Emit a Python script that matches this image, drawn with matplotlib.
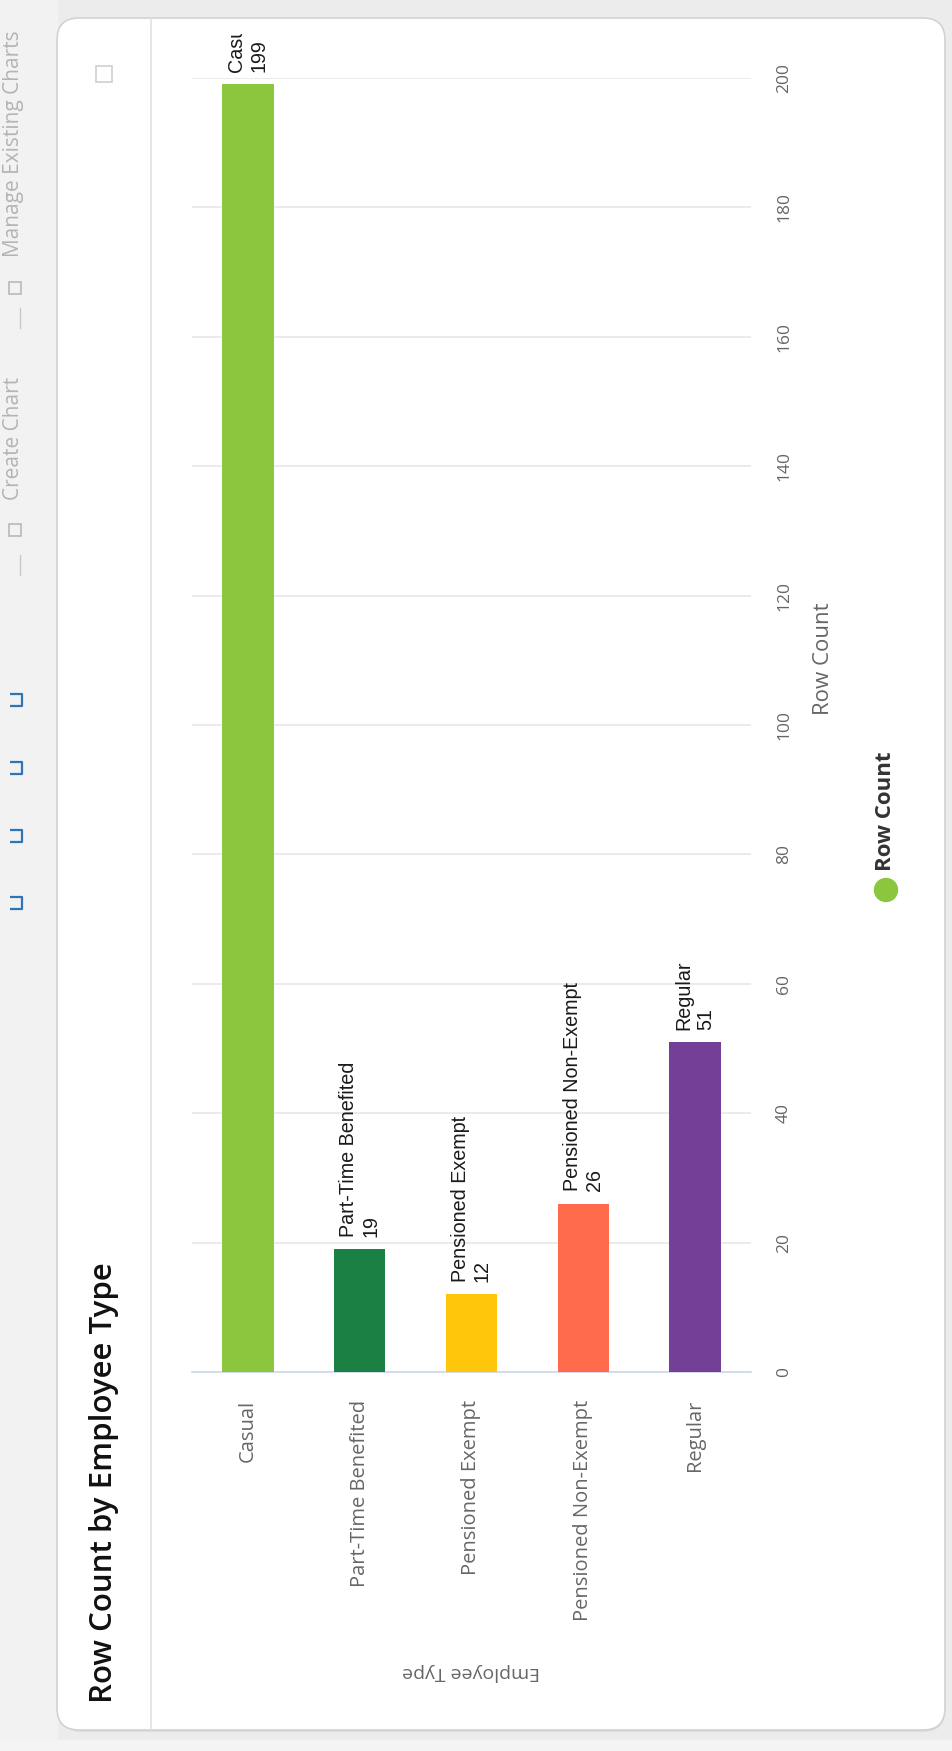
import matplotlib
matplotlib.use("Agg")
import matplotlib.pyplot as plt
from matplotlib.patches import FancyBboxPatch, Rectangle, Circle

plt.rcParams['font.family'] = ['Open Sans', 'DejaVu Sans']

# ---------------------------------------------------------------------------
# Data
# ---------------------------------------------------------------------------
categories = ["Casual", "Part-Time Benefited", "Pensioned Exempt",
              "Pensioned Non-Exempt", "Regular"]
row_counts = [199, 19, 12, 26, 51]
bar_colors = ["#8cc63f", "#1b8043", "#ffc60c", "#ff6b4b", "#743f96"]
y_ticks = [0, 20, 40, 60, 80, 100, 120, 140, 160, 180, 200]

title = "Row Count by Employee Type"
x_title = "Employee Type"
y_title = "Row Count"
series_name = "Row Count"

# ---------------------------------------------------------------------------
# Figure: the whole screenshot is turned on its side
# ---------------------------------------------------------------------------
W, H = 953, 1751
fig = plt.figure(figsize=(W / 100, H / 100), dpi=100, facecolor="#ececec")

# background axes in pixel units (y down)
bg = fig.add_axes([0, 0, 1, 1])
bg.set_xlim(0, W)
bg.set_ylim(H, 0)
bg.axis("off")

# left toolbar strip
bg.add_patch(Rectangle((0, 0), 57, H, color="#f2f2f2", zorder=0))
bg.add_patch(Rectangle((0, 1740), W, 11, color="#f4f4f4", zorder=0))

# card (shadow + white body)
bg.add_patch(FancyBboxPatch((60, 22), 885, 1710, boxstyle="round,pad=0,rounding_size=22",
                            fc="#dcdcdc", ec="none", zorder=1))
bg.add_patch(FancyBboxPatch((57, 18), 888, 1712, boxstyle="round,pad=0,rounding_size=22",
                            fc="white", ec="#d2d2d2", lw=1.2, zorder=2))
bg.plot([151, 151], [19, 1729], color="#e2e2e2", lw=1.2, zorder=3)

# checkbox at the card corner
bg.add_patch(Rectangle((96, 66), 16, 16, fc="white", ec="#cfcfcf", lw=1.2, zorder=3))

# chart title
bg.text(104, 1703, title, rotation=90, rotation_mode="anchor", ha="left", va="center",
        fontsize=22.5, fontweight="semibold", color="#111111", zorder=4)

# toolbar texts and icons (partly cut off at the left edge)
tb_color = "#b4b4b4"
bg.text(14, 257, "Manage Existing Charts", rotation=90, ha="center", va="bottom",
        fontsize=15, color=tb_color, zorder=4)
bg.text(14, 500, "Create Chart", rotation=90, ha="center", va="bottom",
        fontsize=15, color=tb_color, zorder=4)
for yy in [288, 530]:
    bg.add_patch(Rectangle((9, yy - 6), 12, 12, fc="none", ec=tb_color, lw=1.1, zorder=4))
for yy in [318, 565]:
    bg.plot([20, 20], [yy - 10, yy + 10], color="#c8c8c8", lw=1.0, zorder=4)
for yy in [700, 768, 836, 903]:
    bg.plot([10, 22, 22, 10], [yy - 6, yy - 6, yy + 6, yy + 6], color="#2f74b5",
            lw=1.6, zorder=4, solid_capstyle="butt")

# ---------------------------------------------------------------------------
# Plot area
# ---------------------------------------------------------------------------
px_l, px_r, px_top, px_bot = 192, 751, 78, 1372
ax = fig.add_axes([px_l / W, 1 - px_bot / H, (px_r - px_l) / W, (px_bot - px_top) / H])
ax.set_facecolor("none")
ax.set_zorder(5)

x = range(len(categories))
bars = ax.bar(x, row_counts, width=0.46, color=bar_colors, zorder=3)

ax.set_xlim(-0.5, len(categories) - 0.5)
ax.set_ylim(0, 200)
ax.set_yticks(y_ticks)
ax.yaxis.tick_right()
ax.tick_params(axis="y", length=0, pad=18, labelsize=12.5, labelcolor="#666666",
               labelrotation=90)
for lbl in ax.get_yticklabels():
    lbl.set_va("center")
    lbl.set_ha("left")
ax.grid(axis="y", color="#e6e6e6", lw=1.1, zorder=0)
ax.set_axisbelow(True)

ax.set_xticks(list(x))
ax.set_xticklabels(categories, rotation=90, ha="center", va="top")
ax.tick_params(axis="x", length=0, pad=20, labelsize=14.5, labelcolor="#666666")

for side in ["top", "left", "right"]:
    ax.spines[side].set_visible(False)
ax.spines["bottom"].set_color("#ccd6eb")
ax.spines["bottom"].set_linewidth(1.2)

ax.yaxis.set_label_position("right")
ax.set_ylabel(y_title, rotation=90, fontsize=16, color="#666666", ha="center", va="center")
ax.yaxis.set_label_coords(1.13, (px_bot - 659) / (px_bot - px_top))

# value labels above the bars; the long one is cut off at the top of the card
clip_rect = Rectangle((0, 34), W, H, transform=bg.transData, fc="none", ec="none")
bg.add_patch(clip_rect)
for i, (cat, val) in enumerate(zip(categories, row_counts)):
    t = ax.annotate(f"{cat}\n{val}", xy=(i, val), xytext=(0, 9), textcoords="offset points",
                    rotation=90, ha="center", va="bottom", multialignment="left",
                    fontsize=14.2, family=["Liberation Sans", "DejaVu Sans"],
                    color="#1a1a1a", zorder=6, annotation_clip=False)
    t.set_clip_path(clip_rect)
    t.set_clip_on(True)

# axis title for the categories (upside down in the screenshot)
bg.text(471, 1672, x_title, rotation=180, ha="center", va="center", fontsize=14,
        color="#666666", zorder=4)

# legend
bg.add_patch(Circle((886, 890), 11.5, color=bar_colors[0], zorder=4))
bg.text(886, 871, series_name, rotation=90, ha="center", va="bottom", fontsize=16,
        fontweight="bold", color="#333333", zorder=4)

fig.savefig("out.png", dpi=100, facecolor=fig.get_facecolor())
